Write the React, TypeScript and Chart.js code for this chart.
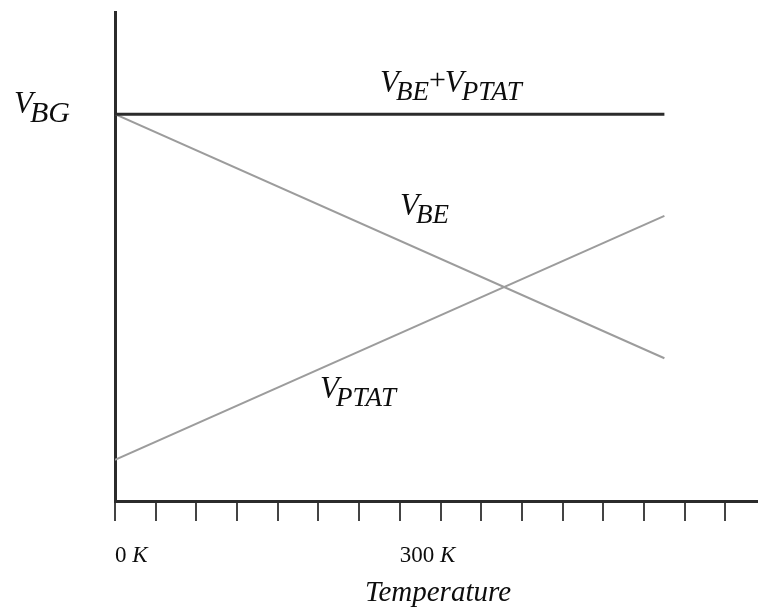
import { useEffect, useRef } from "react";
import { Chart, registerables } from "chart.js";

Chart.register(...registerables);

// Temperature axis, measured in divisions (300 K sits on the 7th division)
const divisionLabels = ["0 K", "", "", "", "", "", "", "300 K"];
const temperatureAxisMax = 15.8;

// Voltage axis (arbitrary units)
const voltageAxisMax = 100;

// Curve end points along the temperature axis
const curveTemps = [0, 13.5];
const vbgSum = [79.1, 79.1]; // V_BE + V_PTAT
const vbe = [79.1, 29.2]; // falls with temperature
const vptat = [8.4, 58.3]; // proportional to absolute temperature

const SERIF = "'Liberation Serif', 'Times New Roman', serif";
const INK = "#0d0d0d";

function toPoints(xs: number[], ys: number[]) {
  return xs.map((x, i) => ({ x, y: ys[i] }));
}

// Draw italic symbol with an italic subscript, return end x
function drawSymbol(
  ctx: CanvasRenderingContext2D,
  x: number,
  baseline: number,
  main: string,
  sub: string,
  size: number,
  subSize: number,
  drop: number,
  subShift: number
) {
  ctx.font = `italic ${size}px ${SERIF}`;
  ctx.fillText(main, x, baseline);
  const w = ctx.measureText(main).width;
  ctx.font = `italic ${subSize}px ${SERIF}`;
  const sx = x + w + subShift;
  ctx.fillText(sub, sx, baseline + drop);
  return sx + ctx.measureText(sub).width;
}

const textPlugin = {
  id: "bandgapText",
  afterDraw(chart: any) {
    const ctx: CanvasRenderingContext2D = chart.ctx;
    const xs = chart.scales.x;
    ctx.save();
    ctx.fillStyle = INK;
    ctx.textBaseline = "alphabetic";
    ctx.textAlign = "left";

    // division labels: upright number, italic unit
    divisionLabels.forEach((lab, i) => {
      if (!lab) return;
      const [num, unit] = lab.split(" ");
      let x = xs.getPixelForValue(i);
      ctx.font = `23px ${SERIF}`;
      ctx.fillText(num + " ", x, 562);
      x += ctx.measureText(num + " ").width;
      ctx.font = `italic 23px ${SERIF}`;
      ctx.fillText(unit, x, 562);
    });

    // axis title
    ctx.font = `italic 29px ${SERIF}`;
    ctx.textAlign = "center";
    ctx.fillText("Temperature", 438, 601);
    ctx.textAlign = "left";

    // V_BG on the voltage axis
    drawSymbol(ctx, 14, 113, "V", "BG", 31, 30, 9, -3);

    // curve labels
    let x = drawSymbol(ctx, 380, 92, "V", "BE", 31, 27, 8, -3);
    ctx.font = `30px ${SERIF}`;
    ctx.fillText("+", x, 89);
    x += ctx.measureText("+").width - 1;
    drawSymbol(ctx, x, 92, "V", "PTAT", 31, 27, 8, -2);

    drawSymbol(ctx, 400, 215, "V", "BE", 31, 27, 8, -3);
    drawSymbol(ctx, 320, 398, "V", "PTAT", 31, 27, 8, -3);

    ctx.restore();
  },
};

export default function App() {
  const canvasRef = useRef<HTMLCanvasElement | null>(null);

  useEffect(() => {
    const canvas = canvasRef.current;
    if (!canvas) return;
    const chart = new Chart(canvas, {
      type: "line",
      data: {
        datasets: [
          {
            label: "VBE+VPTAT",
            data: toPoints(curveTemps, vbgSum),
            borderColor: "#2b2b2b",
            borderWidth: 3,
            pointRadius: 0,
          },
          {
            label: "VBE",
            data: toPoints(curveTemps, vbe),
            borderColor: "#9c9c9c",
            borderWidth: 2,
            pointRadius: 0,
          },
          {
            label: "VPTAT",
            data: toPoints(curveTemps, vptat),
            borderColor: "#9c9c9c",
            borderWidth: 2,
            pointRadius: 0,
          },
        ],
      },
      options: {
        responsive: false,
        animation: false,
        layout: { padding: { top: 12, right: 0, left: 0, bottom: 0 } },
        plugins: {
          legend: { display: false },
          tooltip: { enabled: false },
        },
        scales: {
          x: {
            type: "linear",
            min: 0,
            max: temperatureAxisMax,
            afterFit: (scale: any) => {
              scale.height = 111;
            },
            ticks: { display: false, stepSize: 1, includeBounds: false },
            grid: {
              display: true,
              drawOnChartArea: false,
              drawTicks: true,
              tickLength: 20,
              color: "#444",
              lineWidth: 2,
            },
            border: { display: true, color: "#2b2b2b", width: 3 },
          },
          y: {
            type: "linear",
            min: 0,
            max: voltageAxisMax,
            afterFit: (scale: any) => {
              scale.width = 115;
            },
            ticks: { display: false },
            grid: { display: false },
            border: { display: true, color: "#2b2b2b", width: 3 },
          },
        },
      },
      plugins: [textPlugin],
    });
    return () => chart.destroy();
  }, []);

  return (
    <div style={{ position: "fixed", left: 0, top: 0, width: 758, height: 612, background: "#fff" }}>
      <canvas ref={canvasRef} width={758} height={612} />
    </div>
  );
}
